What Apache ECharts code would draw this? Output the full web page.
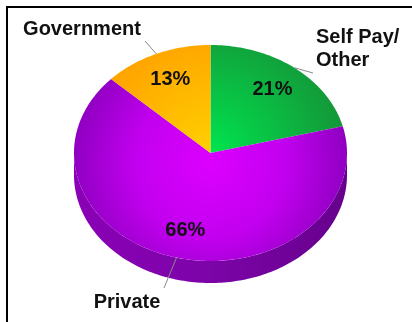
<!DOCTYPE html>
<html><head><meta charset="utf-8">
<script src="https://cdn.jsdelivr.net/npm/echarts@6/dist/echarts.min.js"></script>
<style>html,body{margin:0;padding:0;background:#fff}#c{width:412px;height:322px}</style>
</head><body><div id="c"></div>
<script>
// ---- data ----
const categories = ['Self Pay/\nOther', 'Private', 'Government'];
const values = [21, 66, 13];

// ---- layout / style (not data) ----
const CX = 210.5, CY = 153, RX = 136.5, RY = 108, DEPTH = 22;
const INNER_FRAC = 0.74;
const outerLabelPos = [[316, 48.5, 'left'], [127, 302, 'center'], [82, 29.5, 'center']];
const leaderEnd = [[313, 73], [164, 288], [145, 41]];
const topFill = [
  {type:'radial', x: CX, y: CY, r: RX, global: true, colorStops:[{offset:0,color:'#00e44e'},{offset:1,color:'#149638'}]},
  {type:'radial', x: CX, y: CY + 10, r: RX, global: true, colorStops:[{offset:0,color:'#dc00ff'},{offset:0.55,color:'#c200ef'},{offset:1,color:'#9000c2'}]},
  {type:'radial', x: CX, y: CY, r: RX, global: true, colorStops:[{offset:0,color:'#ffd000'},{offset:1,color:'#ff9e00'}]}
];
const sideFill = [
  '#0c7a2c',
  {type:'linear', x: CX - RX, y: 0, x2: CX + RX, y2: 0, global: true, colorStops:[{offset:0,color:'#8a00b6'},{offset:0.5,color:'#7c04a8'},{offset:1,color:'#66008c'}]},
  '#d08000'
];

const total = values.reduce((a, b) => a + b, 0);
const cum = [];
values.reduce((acc, v, i) => { cum[i] = acc; return acc + v; }, 0);

function pt(t, dy) {
  return [CX + RX * Math.sin(t), CY + (dy || 0) - RY * Math.cos(t)];
}
function arc(a0, a1, dy) {
  const pts = [];
  const n = Math.max(4, Math.ceil(Math.abs(a1 - a0) / 0.02));
  for (let k = 0; k <= n; k++) pts.push(pt(a0 + (a1 - a0) * k / n, dy));
  return pts;
}

const chart = echarts.init(document.getElementById('c'), null, {renderer: 'canvas'});
const font = 'bold 20px "Liberation Sans", Arial, sans-serif';

chart.setOption({
  animation: false,
  graphic: [
    {type:'line', shape:{x1:6, y1:7, x2:412, y2:7}, style:{stroke:'#000', lineWidth:2}, z: 10},
    {type:'line', shape:{x1:7, y1:6, x2:7, y2:322}, style:{stroke:'#000', lineWidth:2}, z: 10}
  ],
  series: [{
    type: 'custom',
    coordinateSystem: 'none',
    data: values.map((v, i) => ({value: v, name: categories[i]})),
    renderItem: function (params, api) {
      const i = params.dataIndex;
      const v = api.value(0);
      const a0 = cum[i] / total * Math.PI * 2;
      const a1 = (cum[i] + v) / total * Math.PI * 2;
      const children = [];
      // side face (front half only)
      const s = Math.max(a0, Math.PI / 2), e = Math.min(a1, Math.PI * 1.5);
      if (e > s) {
        const pts = arc(s, e, 0).concat(arc(e, s, DEPTH));
        children.push({type:'polygon', shape:{points: pts}, style:{fill: sideFill[i]}});
      }
      // top face
      const topPts = [[CX, CY]].concat(arc(a0, a1, 0));
      children.push({type:'polygon', shape:{points: topPts}, style:{fill: topFill[i]}});
      // inner percent label
      const mid = (a0 + a1) / 2;
      const ip = [CX + INNER_FRAC * RX * Math.sin(mid), CY - INNER_FRAC * RY * Math.cos(mid)];
      children.push({type:'text', x: ip[0], y: ip[1], style:{text: Math.round(v / total * 100) + '%', font: font, fill:'#111', align:'center', verticalAlign:'middle'}});
      // leader line
      const ep = pt(mid, 0);
      children.push({type:'line', shape:{x1: ep[0], y1: ep[1], x2: leaderEnd[i][0], y2: leaderEnd[i][1]}, style:{stroke:'#8a8a8a', lineWidth:1}});
      // outer name label
      const lp = outerLabelPos[i];
      children.push({type:'text', x: lp[0], y: lp[1], style:{text: categories[i], font: font, fill:'#111', align: lp[2], verticalAlign:'middle', lineHeight: 23}});
      return {type:'group', children: children};
    }
  }]
});
</script>
</body></html>
